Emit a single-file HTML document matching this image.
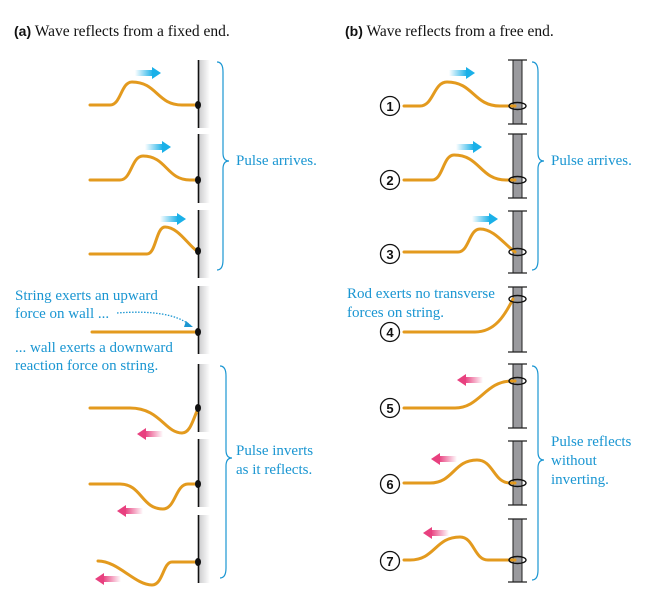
<!DOCTYPE html>
<html><head><meta charset="utf-8"><style>
html,body{margin:0;padding:0;background:#fff}
svg{display:block}
text{font-family:"Liberation Serif",serif;font-size:15px;fill:#1a96d2}
</style></head><body>
<svg id="s" width="658" height="607" viewBox="0 0 658 607">
<defs>
<linearGradient id="wall" x1="0" x2="1"><stop offset="0" stop-color="#c8c8ca"/><stop offset="1" stop-color="#ffffff"/></linearGradient>
<linearGradient id="bl" x1="0" x2="1"><stop offset="0" stop-color="#1ab0e8" stop-opacity="0"/><stop offset="1" stop-color="#1ab0e8"/></linearGradient>
<linearGradient id="pk" x1="1" x2="0"><stop offset="0" stop-color="#e8407f" stop-opacity="0"/><stop offset="1" stop-color="#e8407f"/></linearGradient>
</defs>
<text x="14" y="36" style="fill:#111;font-size:15.5px"><tspan style="font-family:'Liberation Sans',sans-serif;font-size:14px;font-weight:bold">(a)</tspan> Wave reflects from a fixed end.</text>
<text x="345" y="36" style="fill:#111;font-size:15.5px"><tspan style="font-family:'Liberation Sans',sans-serif;font-size:14px;font-weight:bold">(b)</tspan> Wave reflects from a free end.</text>
<g id="g"></g>
<text x="236" y="165">Pulse arrives.</text>
<text x="236" y="455">Pulse inverts</text>
<text x="236" y="474">as it reflects.</text>
<text x="551" y="165">Pulse arrives.</text>
<text x="551" y="446">Pulse reflects</text>
<text x="551" y="465">without</text>
<text x="551" y="484">inverting.</text>
<text x="15" y="300">String exerts an upward</text>
<text x="15" y="318">force on wall ...</text>
<text x="15" y="352">... wall exerts a downward</text>
<text x="15" y="370">reaction force on string.</text>
<text x="347" y="298">Rod exerts no transverse</text>
<text x="347" y="317">forces on string.</text>
<path d="M117,313 Q170,309 190,325" fill="none" stroke="#1a96d2" stroke-width="1.3" stroke-dasharray="1.5,1.5"/>
<path d="M186,321 L193,327 L184,327 Z" fill="#1a96d2"/>
</svg>
<script>
const NS='http://www.w3.org/2000/svg';
const g=document.getElementById('g');
function mk(tag,attrs,name){const e=document.createElementNS(NS,tag);for(const k in attrs)e.setAttribute(k,attrs[k]);


g.appendChild(e);return e;}
function pulse(xs,x0,xp,x1,y,h,xe){const a=x0+(xp-x0)*0.5,b=xp+(x1-xp)*0.5;
return `M${xs},${y} L${x0},${y} C${a},${y} ${a},${y-h} ${xp},${y-h} C${b},${y-h} ${b},${y} ${x1},${y} L${xe},${y}`;}
const wallSegs=[[60,128],[134,203],[210,278],[286,354],[364,432],[439,507],[515,583]];
wallSegs.forEach((s,i)=>{mk('rect',{x:198,y:s[0],width:12,height:s[1]-s[0],fill:'url(#wall)'},'wall-segment-'+(i+1));
mk('line',{x1:198.5,y1:s[0],x2:198.5,y2:s[1],stroke:'#111','stroke-width':1.6},'wall-edge-'+(i+1));});
const rodSegs=[[60,124],[134,198],[211,273],[287,352],[364,428],[441,505],[519,582]];
rodSegs.forEach((s,i)=>{mk('rect',{x:513,y:s[0],width:9,height:s[1]-s[0],fill:'#9a9a9e',stroke:'#222','stroke-width':1},'rod-segment-'+(i+1));
mk('line',{x1:508,y1:s[0],x2:527,y2:s[0],stroke:'#222','stroke-width':1.3},'rod-cap-top-'+(i+1));
mk('line',{x1:508,y1:s[1],x2:527,y2:s[1],stroke:'#222','stroke-width':1.3},'rod-cap-bottom-'+(i+1));});
const S={fill:'none',stroke:'#e39a1e','stroke-width':3,'stroke-linecap':'round'};
const left=[
 pulse(90,110,132,182,105,23,197),
 pulse(90,120,143,190,180,24,197),
 'M90,254 L147,254 C156,254 156,227 165,227 C178,227 188,245 197,251',
 'M92,332 L197,332',
 'M90,408 L130,408 C160,408 165,433 182,433 C190,433 193,420 197,411',
 pulse(90,120,163,188,484,-25,197),
 'M98,561 C118,561 135,585 152,585 C163,585 163,562 172,562 L197,562'];
const leftDots=[105,180,251,332,408,484,562];
left.forEach((d,i)=>{mk('path',Object.assign({d:d},S),'string-a-'+(i+1));
mk('ellipse',{cx:198,cy:leftDots[i],rx:3,ry:4,fill:'#111'},'string-end-a-'+(i+1));});
const right=[
 pulse(404,420,447,500,106,24,515),
 pulse(404,432,454,506,180,25,515),
 'M404,252 L458,252 C469,252 469,229 480,229 C494,229 504,244 515,252',
 'M404,332 L475,332 C495,332 505,315 513,299',
 'M404,408 L455,408 C480,408 485,381 512,381 L515,381',
 pulse(404,430,477,510,483,23,515),
 pulse(404,410,460,488,560,23,515)];
const ringY=[106,180,252,299,381,483,560];
right.forEach((d,i)=>{mk('path',Object.assign({d:d},S),'string-b-'+(i+1));
mk('ellipse',{cx:517.5,cy:ringY[i],rx:8.5,ry:3.5,fill:'none',stroke:'#111','stroke-width':1.4},'ring-'+(i+1));});
const numY=[106,180,254,332,408,484,561];
numY.forEach((y,i)=>{mk('circle',{cx:390,cy:y,r:9.5,fill:'#fff',stroke:'#111','stroke-width':1.3},'step-circle-'+(i+1));
const t=mk('text',{x:390,y:y+5,'text-anchor':'middle',style:'fill:#111;font-family:Liberation Sans,sans-serif;font-weight:bold;font-size:13px'},'step-number-'+(i+1));t.textContent=String(i+1);});
function arrow(x,y,dir,col,name){const w=26;
if(dir>0){mk('rect',{x:x,y:y-3,width:w-8,height:6,fill:'url(#bl)'},name+'-tail');
mk('path',{d:`M${x+w-9},${y-6} L${x+w},${y} L${x+w-9},${y+6} Z`,fill:col},name+'-head');}
else{mk('rect',{x:x+8,y:y-3,width:w-8,height:6,fill:'url(#pk)'},name+'-tail');
mk('path',{d:`M${x+9},${y-6} L${x},${y} L${x+9},${y+6} Z`,fill:col},name+'-head');}}
const B='#1ab0e8',P='#e8407f';
arrow(135,73,1,B,'arrow-a-1');arrow(145,147,1,B,'arrow-a-2');arrow(160,219,1,B,'arrow-a-3');
arrow(137,434,-1,P,'arrow-a-5');arrow(117,511,-1,P,'arrow-a-6');arrow(95,579,-1,P,'arrow-a-7');
arrow(449,73,1,B,'arrow-b-1');arrow(456,147,1,B,'arrow-b-2');arrow(472,219,1,B,'arrow-b-3');
arrow(457,380,-1,P,'arrow-b-5');arrow(431,459,-1,P,'arrow-b-6');arrow(423,533,-1,P,'arrow-b-7');
function brace(x,y0,y1,ym,name){mk('path',{d:`M${x-6},${y0} Q${x},${y0} ${x},${y0+10} L${x},${ym-8} Q${x},${ym} ${x+6},${ym} Q${x},${ym} ${x},${ym+8} L${x},${y1-10} Q${x},${y1} ${x-6},${y1}`,fill:'none',stroke:'#1a96d2','stroke-width':1.2},name);}
brace(223,62,270,161,'brace-a-top');brace(226,366,578,458,'brace-a-bottom');
brace(538,62,270,161,'brace-b-top');brace(538,366,580,460,'brace-b-bottom');
</script>
</body></html>
